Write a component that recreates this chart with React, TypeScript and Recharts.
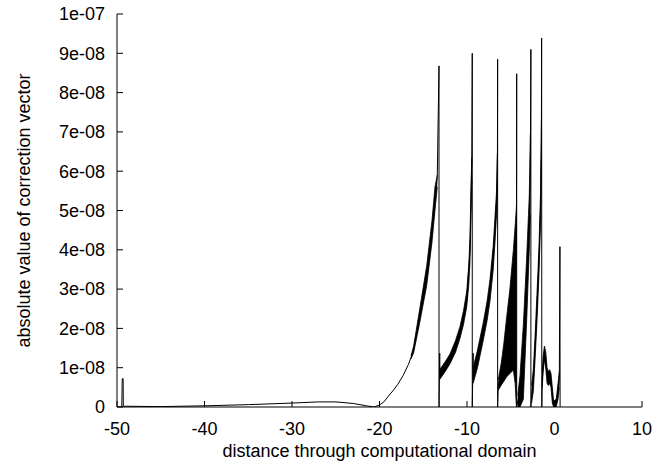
import { Area, ComposedChart, Line, XAxis, YAxis } from "recharts";

// y values are in units of 1e-8
const xTicks = [-50, -40, -30, -20, -10, 0, 10];
const yTicks = [0, 1, 2, 3, 4, 5, 6, 7, 8, 9, 10];

// thin trace [x, y]
const tracePts: [number, number][] = [
  [-50, 0], [-49.45, 0], [-49.4, 0.72], [-49.3, 0.72], [-49.28, 0.02],
  [-45, 0.01], [-40, 0.03], [-35, 0.06], [-30, 0.1], [-27, 0.13], [-25, 0.13],
  [-23, 0.09], [-21.5, 0.03], [-20.6, 0], [-20, 0.05], [-19.5, 0.13], [-18.9, 0.3],
  [-18.4, 0.43], [-17.9, 0.58], [-17.3, 0.8], [-16.7, 1.08], [-16.1, 1.45],
  [-15.4, 2.3], [-14.6, 3.32], [-14.0, 4.42],
  [-13.66, 5.27], [-13.4, 5.86], [-13.2, 8.68], [-13.2, 0],
  [-13.12, 1.37], [-13.09, 0.77], [-11.94, 1.2], [-10.8, 1.87], [-10.03, 2.72],
  [-9.66, 4.0], [-9.54, 5.27], [-9.45, 6.36], [-9.4, 9.0], [-9.4, 0],
  [-9.3, 1.37], [-9.28, 0.7], [-8.14, 1.9], [-7.37, 3.0], [-6.8, 4.5],
  [-6.6, 5.3], [-6.52, 6.46], [-6.5, 8.85], [-6.5, 0],
  [-6.42, 0.55], [-5.46, 1.5], [-4.7, 2.5], [-4.35, 4.0], [-4.32, 8.48], [-4.32, 0],
  [-4.2, 0.15], [-3.94, 0.4], [-3.56, 1.1], [-3.18, 3.0], [-2.88, 4.7],
  [-2.76, 6.0], [-2.7, 9.1], [-2.7, 0],
  [-2.62, 0.3], [-2.42, 0.65], [-2.04, 2.35], [-1.77, 3.75], [-1.58, 5.27],
  [-1.5, 6.8], [-1.47, 9.39], [-1.45, 0],
  [-1.4, 0.7], [-1.15, 1.4], [-0.85, 0.8], [-0.7, 0.72], [-0.55, 0.78],
  [-0.4, 0.68], [-0.25, 0.3], [-0.1, 0.05], [0.2, 0.1], [0.4, 0.4],
  [0.55, 0.7], [0.62, 4.08], [0.64, 0],
];

// dense oscillation bands [x, low, high]
const band1: [number, number, number][] = [
  [-16.4, 1.22, 1.3], [-16.1, 1.38, 1.55], [-15.4, 2.15, 2.5], [-14.6, 3.1, 3.6],
  [-14.0, 4.2, 4.75], [-13.66, 5.0, 5.6], [-13.4, 5.6, 5.9],
];
const band2: [number, number, number][] = [
  [-13.12, 0.7, 0.95], [-12.5, 0.9, 1.15], [-11.94, 1.1, 1.35], [-11.3, 1.4, 1.7],
  [-10.8, 1.75, 2.05], [-10.4, 2.1, 2.45], [-10.03, 2.55, 2.95], [-9.8, 3.1, 3.6],
  [-9.66, 3.7, 4.3], [-9.54, 4.9, 5.6], [-9.45, 5.8, 6.36],
];
const band3: [number, number, number][] = [
  [-9.3, 0.6, 1.0], [-8.8, 1.0, 1.45], [-8.14, 1.7, 2.15], [-7.7, 2.2, 2.7],
  [-7.37, 2.7, 3.25], [-7.0, 3.5, 4.1], [-6.8, 4.2, 4.85], [-6.62, 4.9, 5.5],
  [-6.53, 5.7, 6.46],
];
const band4: [number, number, number][] = [
  [-6.42, 0.43, 0.7], [-6.1, 0.55, 1.1], [-5.8, 0.65, 1.6], [-5.46, 0.77, 2.3],
  [-5.1, 0.85, 3.0], [-4.7, 0.94, 4.0], [-4.5, 0.6, 4.6], [-4.38, 0.1, 5.0],
  [-4.33, 0, 5.2],
];
const band5: [number, number, number][] = [
  [-4.2, 0, 0.3], [-3.94, 0, 0.8], [-3.56, 0.2, 2.1], [-3.18, 2.2, 3.8],
  [-2.88, 4.0, 5.4], [-2.76, 4.9, 6.97],
];
const band6: [number, number, number][] = [
  [-2.62, 0.1, 0.55], [-2.42, 0.4, 0.95], [-2.2, 1.3, 1.9], [-2.04, 2.0, 2.7],
  [-1.9, 2.7, 3.4], [-1.77, 3.4, 4.1], [-1.65, 4.3, 5.0], [-1.58, 4.9, 5.6],
  [-1.5, 6.3, 7.3],
];
const band7: [number, number, number][] = [
  [-1.4, 0.5, 0.9], [-1.3, 0.9, 1.3], [-1.15, 1.2, 1.55], [-1.0, 1.0, 1.4],
  [-0.85, 0.6, 1.0], [-0.7, 0.55, 0.9], [-0.55, 0.6, 0.95], [-0.4, 0.5, 0.85],
  [-0.25, 0.1, 0.5], [-0.1, 0, 0.15], [0.2, 0, 0.2], [0.4, 0.2, 0.6], [0.55, 0.5, 0.9],
];

const bands = [band1, band2, band3, band4, band5, band6, band7];

const traceData = tracePts.map(([x, y]) => ({ x, y }));
const bandData = bands.map((b) => b.map(([x, lo, hi]) => ({ x, band: [lo, hi] })));

const FONT = "'Liberation Sans', Arial, Helvetica, sans-serif";
const tickStyle = { fill: "#000", fontSize: 18, fontFamily: FONT };

function formatY(v: number) {
  if (v === 0) return "0";
  if (v === 10) return "1e-07";
  return `${v}e-08`;
}

export default function App() {
  return (
    <div style={{ position: "absolute", left: 0, top: 0, width: 656, height: 468, background: "#fff" }}>
      <ComposedChart width={656} height={468} margin={{ top: 14, right: 14, bottom: 0, left: 0 }}>
        <XAxis
          xAxisId="b"
          type="number"
          dataKey="x"
          domain={[-50, 10]}
          ticks={xTicks}
          interval={0}
          height={61}
          tickSize={-6}
          tickMargin={21}
          tick={tickStyle}
          axisLine={{ stroke: "#000" }}
          tickLine={{ stroke: "#000" }}
          allowDataOverflow
          label={{
            content: ({ viewBox }: any) => (
              <text
                x={viewBox.x + viewBox.width / 2}
                y={457}
                textAnchor="middle"
                fontSize={18}
                fontFamily={FONT}
                fill="#000"
              >
                distance through computational domain
              </text>
            ),
          }}
        />
        <XAxis
          xAxisId="t"
          orientation="top"
          type="number"
          dataKey="x"
          domain={[-50, 10]}
          ticks={xTicks}
          interval={0}
          height={0}
          tickSize={-6}
          tick={false}
          axisLine={{ stroke: "#000" }}
          tickLine={{ stroke: "#000" }}
          allowDataOverflow
        />
        <YAxis
          yAxisId="l"
          type="number"
          domain={[0, 10]}
          ticks={yTicks}
          interval={0}
          width={117}
          tickSize={-6}
          tickMargin={18}
          tick={tickStyle}
          tickFormatter={formatY}
          axisLine={{ stroke: "#000" }}
          tickLine={{ stroke: "#000" }}
          allowDataOverflow
          label={{
            content: ({ viewBox }: any) => {
              const cx = viewBox.x + 30;
              const cy = viewBox.y + viewBox.height / 2;
              return (
                <text
                  x={cx}
                  y={cy}
                  transform={`rotate(-90 ${cx} ${cy})`}
                  textAnchor="middle"
                  fontSize={18}
                  fontFamily={FONT}
                  fill="#000"
                >
                  absolute value of correction vector
                </text>
              );
            },
          }}
        />
        <YAxis
          yAxisId="r"
          orientation="right"
          type="number"
          domain={[0, 10]}
          ticks={yTicks}
          interval={0}
          width={0}
          tickSize={-6}
          tick={false}
          axisLine={{ stroke: "#000" }}
          tickLine={{ stroke: "#000" }}
          allowDataOverflow
        />
        {bandData.map((d, i) => (
          <Area
            key={i}
            xAxisId="b"
            yAxisId="l"
            data={d}
            dataKey="band"
            type="linear"
            stroke="#000"
            strokeWidth={0.8}
            fill="#000"
            fillOpacity={1}
            dot={false}
            activeDot={false}
            isAnimationActive={false}
          />
        ))}
        <Line
          xAxisId="b"
          yAxisId="l"
          data={traceData}
          dataKey="y"
          type="linear"
          stroke="#000"
          strokeWidth={1}
          dot={false}
          activeDot={false}
          isAnimationActive={false}
        />
      </ComposedChart>
    </div>
  );
}
